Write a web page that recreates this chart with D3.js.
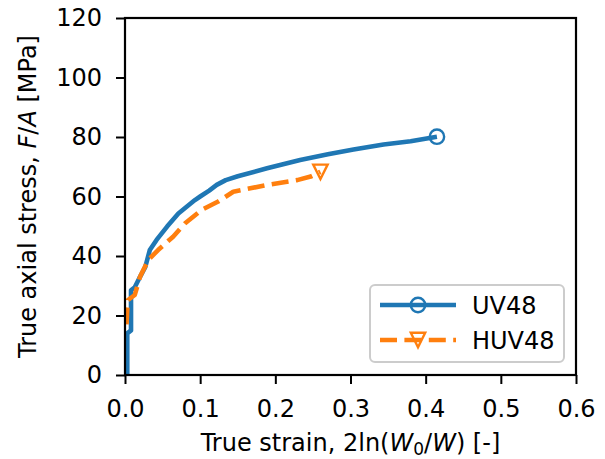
<!DOCTYPE html>
<html>
<head>
<meta charset="utf-8">
<script src="https://cdn.jsdelivr.net/npm/d3@7"></script>
<style>
  body { margin: 0; background: #fff; }
  text { font-family: "DejaVu Sans", sans-serif; }
</style>
</head>
<body>
<div id="content"></div>
<script>
// data
let uvStrain = [0.003, 0.003, 0.008, 0.008, 0.013, 0.020, 0.027, 0.033, 0.042, 0.056, 0.071, 0.093, 0.100, 0.112, 0.122, 0.134, 0.150, 0.189, 0.233, 0.270, 0.304, 0.344, 0.380, 0.415];
let uvStress = [0, 14, 15, 28.5, 29.5, 33, 36.3, 42, 45.4, 49.9, 54.3, 58.8, 60, 62, 63.9, 65.5, 66.8, 69.5, 72.3, 74.2, 75.8, 77.5, 78.6, 80.1];
let huvStrain = [0.002, 0.003, 0.004, 0.013, 0.020, 0.031, 0.044, 0.064, 0.080, 0.102, 0.124, 0.144, 0.189, 0.229, 0.247, 0.260];
let huvStress = [17, 22, 25.2, 26.9, 33, 38.7, 42, 46.5, 51, 55.5, 58.3, 61.6, 63.9, 65.5, 66.7, 68.3];
let xTicks = [0, 0.1, 0.2, 0.3, 0.4, 0.5, 0.6];
let yTicks = [0, 20, 40, 60, 80, 100, 120];
let seriesNames = ['UV48', 'HUV48'];

let width = 605, height = 459;
let plotLeft = 125, plotRight = 576, plotTop = 18, plotBottom = 375;
let fontSize = 24;
let lineW = 4.6, dash = '17,7.4';

let xScale = d3.scaleLinear().domain([0, 0.6]).range([plotLeft, plotRight]);
let yScale = d3.scaleLinear().domain([0, 120]).range([plotBottom, plotTop]);

let svg = d3.select('#content').append('svg').attr('width', width).attr('height', height);

let line = d3.line().x(d => xScale(d[0])).y(d => yScale(d[1]));
let uv = uvStrain.map((x, i) => [x, uvStress[i]]);
let huv = huvStrain.map((x, i) => [x, huvStress[i]]);

svg.append('path').datum(uv).attr('d', line)
  .attr('fill', 'none').attr('stroke', '#1f77b4').attr('stroke-width', lineW)
  .attr('stroke-linejoin', 'round');
svg.append('path').datum(huv).attr('d', line)
  .attr('fill', 'none').attr('stroke', '#ff7f0e').attr('stroke-width', lineW)
  .attr('stroke-dasharray', dash).attr('stroke-linejoin', 'round');

// markers: open circle and downward triangle (matplotlib 'o' and 'v')
let circle = () => d3.symbol().type(d3.symbolCircle).size(Math.PI * 7.2 * 7.2)();
let triDown = () => 'M0,7.2L-7.2,-7.2L7.2,-7.2Z';
let uvEnd = uv[uv.length - 1], huvEnd = huv[huv.length - 1];
svg.append('path').attr('d', circle())
  .attr('transform', `translate(${xScale(uvEnd[0])},${yScale(uvEnd[1])})`)
  .attr('fill', 'none').attr('stroke', '#1f77b4').attr('stroke-width', 2.4);
svg.append('path').attr('d', triDown())
  .attr('transform', `translate(${xScale(huvEnd[0])},${yScale(huvEnd[1])})`)
  .attr('fill', 'none').attr('stroke', '#ff7f0e').attr('stroke-width', 2.4).attr('stroke-linejoin', 'miter');

// axes
let xAxis = d3.axisBottom(xScale).tickValues(xTicks).tickFormat(d3.format('.1f')).tickSize(9).tickSizeOuter(0).tickPadding(16);
let yAxis = d3.axisLeft(yScale).tickValues(yTicks).tickFormat(d3.format('d')).tickSize(9).tickSizeOuter(0).tickPadding(14);

let gx = svg.append('g').attr('transform', `translate(0,${plotBottom})`).call(xAxis);
let gy = svg.append('g').attr('transform', `translate(${plotLeft},0)`).call(yAxis);
[gx, gy].forEach(g => {
  g.select('.domain').remove();
  g.selectAll('line').attr('stroke', '#000').attr('stroke-width', 2);
  g.selectAll('text').attr('font-size', fontSize + 'px').attr('fill', '#000').attr('font-family', 'DejaVu Sans');
});

svg.append('rect').attr('x', plotLeft).attr('y', plotTop).attr('width', plotRight - plotLeft).attr('height', plotBottom - plotTop)
  .attr('fill', 'none').attr('stroke', '#000').attr('stroke-width', 2.2);

// axis labels
let xl = svg.append('text').attr('x', (plotLeft + plotRight) / 2).attr('y', 451).attr('text-anchor', 'middle')
  .attr('font-size', fontSize + 'px');
xl.append('tspan').text('True strain, 2ln(');
xl.append('tspan').text('W').attr('font-style', 'italic');
xl.append('tspan').text('0').attr('font-size', '17px').attr('dy', 4);
xl.append('tspan').text('/').attr('dy', -4);
xl.append('tspan').text('W').attr('font-style', 'italic');
xl.append('tspan').text(') [-]');

let yl = svg.append('text').attr('transform', `translate(36,${(plotTop + plotBottom) / 2}) rotate(-90)`)
  .attr('text-anchor', 'middle').attr('font-size', fontSize + 'px');
yl.append('tspan').text('True axial stress, ');
yl.append('tspan').text('F').attr('font-style', 'italic');
yl.append('tspan').text('/');
yl.append('tspan').text('A').attr('font-style', 'italic');
yl.append('tspan').text(' [MPa]');

// legend
let legend = svg.append('g');
legend.append('rect').attr('x', 370).attr('y', 285).attr('width', 194).attr('height', 77).attr('rx', 5)
  .attr('fill', '#fff').attr('fill-opacity', 0.8).attr('stroke', '#cccccc').attr('stroke-width', 2);
let styles = [
  { color: '#1f77b4', dash: null, sym: circle },
  { color: '#ff7f0e', dash: dash, sym: triDown }
];
seriesNames.forEach((name, i) => {
  let y = 305 + i * 35;
  legend.append('line').attr('x1', 380).attr('x2', 456).attr('y1', y).attr('y2', y)
    .attr('stroke', styles[i].color).attr('stroke-width', lineW).attr('stroke-dasharray', styles[i].dash);
  legend.append('path').attr('d', styles[i].sym())
    .attr('transform', `translate(418,${y})`)
    .attr('fill', 'none').attr('stroke', styles[i].color).attr('stroke-width', 2.4);
  legend.append('text').attr('x', 472).attr('y', y + 9).attr('font-size', fontSize + 'px').text(name);
});
</script>
</body>
</html>
